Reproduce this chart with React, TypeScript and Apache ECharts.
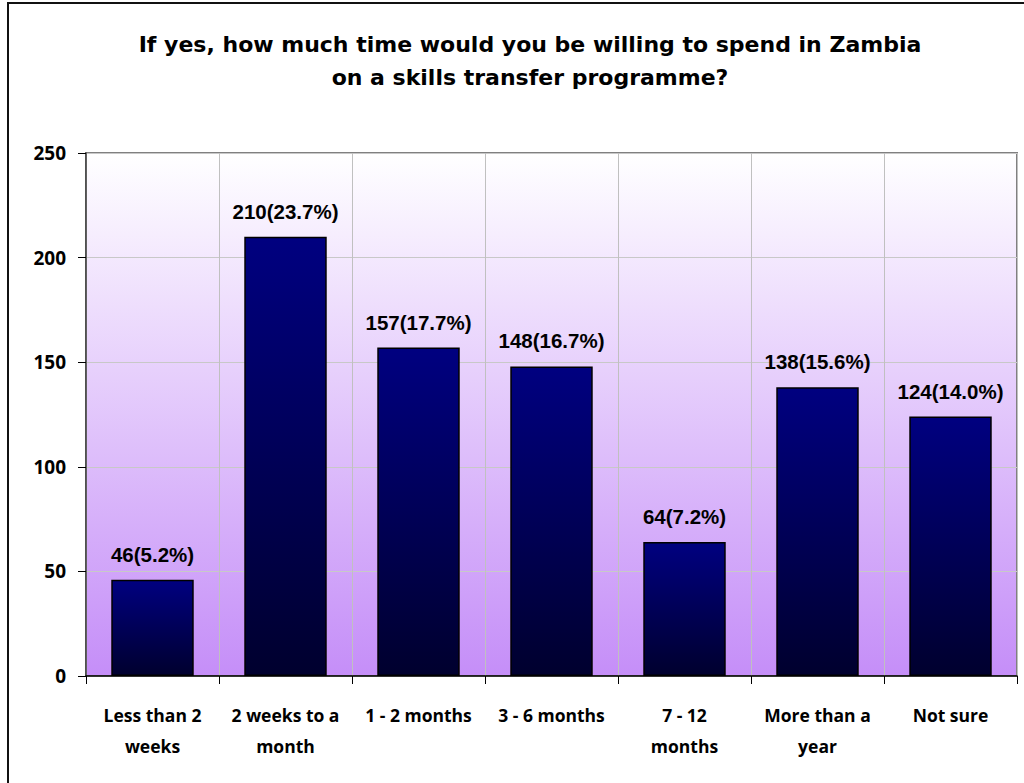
import React, { useEffect, useRef } from "react";
import * as echarts from "echarts";

const categories = [
  "Less than 2\nweeks",
  "2 weeks to a\nmonth",
  "1 - 2 months",
  "3 - 6 months",
  "7 - 12\nmonths",
  "More than a\nyear",
  "Not sure",
];
const counts = [46, 210, 157, 148, 64, 138, 124];
const percents = ["5.2%", "23.7%", "17.7%", "16.7%", "7.2%", "15.6%", "14.0%"];
const yTicks = { min: 0, max: 250, interval: 50 };
const titleLines = [
  "If yes, how much time would you be willing to spend in Zambia",
  "on a skills transfer programme?",
];

export default function App() {
  const ref = useRef<HTMLDivElement>(null);
  useEffect(() => {
    if (!ref.current) return;
    const chart = echarts.init(ref.current, null, { renderer: "svg" });
    const calibri = "'Open Sans', 'Noto Sans', sans-serif";
    chart.setOption({
      animation: false,
      backgroundColor: "#ffffff",
      title: {
        text: titleLines.join("\n"),
        left: 525,
        top: 23,
        textAlign: "center",
        textStyle: {
          fontFamily: "'DejaVu Sans', sans-serif",
          fontWeight: "bold",
          fontSize: 22,
          lineHeight: 33,
          color: "#000",
        },
      },
      graphic: [
        {
          type: "rect",
          shape: { x: 8, y: 3, width: 1100, height: 900 },
          style: { fill: "none", stroke: "#111", lineWidth: 2 },
          silent: true,
          z: 100,
        },
      ],
      grid: {
        left: 86,
        right: 7,
        top: 153,
        bottom: 107,
        show: true,
        borderColor: "#808080",
        borderWidth: 2,
        backgroundColor: new echarts.graphic.LinearGradient(0, 0, 0, 1, [
          { offset: 0, color: "#ffffff" },
          { offset: 1, color: "#c58ef8" },
        ]),
      },
      xAxis: {
        type: "category",
        data: categories,
        axisLine: { show: true, lineStyle: { color: "#000", width: 1.5 } },
        axisTick: { show: true, length: 8, lineStyle: { color: "#000" } },
        splitLine: { show: true, lineStyle: { color: "#c0c0c0", width: 1 } },
        axisLabel: {
          interval: 0,
          margin: 23,
          fontFamily: calibri,
          fontWeight: "bold",
          fontSize: 17.5,
          lineHeight: 31,
          color: "#000",
        },
      },
      yAxis: {
        type: "value",
        min: yTicks.min,
        max: yTicks.max,
        interval: yTicks.interval,
        axisLine: { show: true, lineStyle: { color: "#404040", width: 1.5 } },
        axisTick: { show: true, length: 8, lineStyle: { color: "#000" } },
        splitLine: { show: true, lineStyle: { color: "#c8c8c8", width: 1 } },
        axisLabel: {
          margin: 20,
          fontFamily: calibri,
          fontWeight: "bold",
          fontSize: 19,
          color: "#000",
        },
      },
      series: [
        {
          type: "bar",
          data: counts,
          barCategoryGap: "38%",
          itemStyle: {
            color: new echarts.graphic.LinearGradient(0, 0, 0, 1, [
              { offset: 0, color: "#000080" },
              { offset: 1, color: "#00002e" },
            ]),
            borderColor: "#000",
            borderWidth: 1.5,
          },
          label: {
            show: true,
            position: "top",
            distance: 15,
            formatter: (p: any) => `${counts[p.dataIndex]}(${percents[p.dataIndex]})`,
            fontFamily: "'Liberation Sans', Arial, sans-serif",
            fontWeight: "bold",
            fontSize: 20.5,
            color: "#000",
          },
        },
      ],
    });
    return () => chart.dispose();
  }, []);
  return (
    <div
      ref={ref}
      style={{ position: "fixed", left: 0, top: 0, width: 1024, height: 783 }}
    />
  );
}
